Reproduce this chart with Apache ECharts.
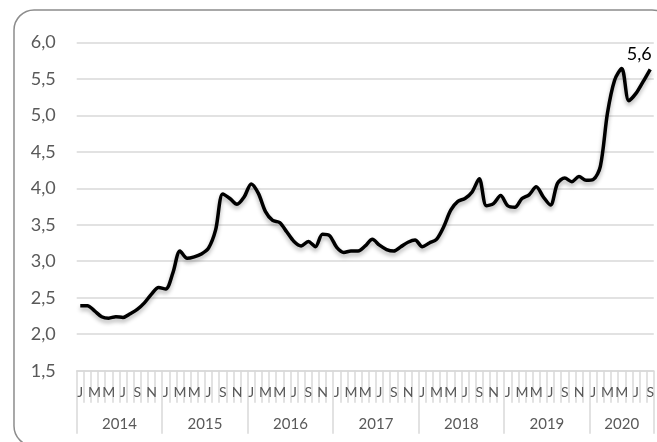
<!DOCTYPE html>
<html>
<head>
<meta charset="utf-8">
<script src="https://cdn.jsdelivr.net/npm/echarts@6/dist/echarts.min.js"></script>
<style>
  html, body { margin: 0; padding: 0; background: #fff; }
  #chart { width: 657px; height: 442px; }
</style>
</head>
<body>
<div id="chart"></div>
<script>
// monthly values, Jan 2014 .. Sep 2020
const years = ['2014', '2015', '2016', '2017', '2018', '2019', '2020']
const monthsPerYear = [12, 12, 12, 12, 12, 12, 9]
const monthLetters = ['J', 'F', 'M', 'A', 'M', 'J', 'J', 'A', 'S', 'O', 'N', 'D']

const values2014 = [2.39, 2.39, 2.32, 2.24, 2.22, 2.24, 2.23, 2.28, 2.34, 2.43, 2.55, 2.64]
const values2015 = [2.62, 2.84, 3.14, 3.04, 3.06, 3.10, 3.18, 3.43, 3.92, 3.86, 3.78, 3.88]
const values2016 = [4.06, 3.93, 3.68, 3.56, 3.53, 3.40, 3.27, 3.21, 3.27, 3.20, 3.37, 3.35]
const values2017 = [3.19, 3.12, 3.14, 3.14, 3.21, 3.30, 3.22, 3.16, 3.14, 3.20, 3.26, 3.29]
const values2018 = [3.20, 3.25, 3.30, 3.47, 3.70, 3.82, 3.86, 3.95, 4.13, 3.76, 3.79, 3.90]
const values2019 = [3.76, 3.74, 3.86, 3.91, 4.02, 3.88, 3.77, 4.07, 4.14, 4.09, 4.16, 4.11]
const values2020 = [4.12, 4.30, 5.03, 5.48, 5.64, 5.20, 5.30, 5.46, 5.63]

const yTicks = { min: 1.5, max: 6, interval: 0.5 }

const values = [].concat(values2014, values2015, values2016, values2017, values2018, values2019, values2020)
const categories = []
const yearBounds = [-0.5]
const yearMids = []
let idx = 0
years.forEach((y, k) => {
  for (let m = 0; m < monthsPerYear[k]; m++) categories.push(y + '-' + (m + 1))
  yearMids.push(idx + monthsPerYear[k] / 2 - 0.5)
  idx += monthsPerYear[k]
  yearBounds.push(idx - 0.5)
})

const grey = '#d9d9d9'
const textGrey = '#595959'
const font = 'Lato, "Noto Sans", sans-serif'

const chart = echarts.init(document.getElementById('chart'))
chart.setOption({
  backgroundColor: '#fff',
  animation: false,
  graphic: [{
    type: 'rect',
    shape: { x: 14, y: 10, width: 658, height: 436, r: 20 },
    style: { fill: 'none', stroke: '#8c8c8c', lineWidth: 1.5 },
    z: 10
  }],
  grid: { left: 76.7, right: 0.3, top: 42.3, bottom: 71.3 },
  xAxis: [
    {
      type: 'category',
      data: categories,
      boundaryGap: true,
      axisLine: { lineStyle: { color: grey, width: 1.5 } },
      axisTick: { show: true, interval: 0, length: 32, lineStyle: { color: grey, width: 1.5 } },
      axisLabel: {
        interval: 1,
        margin: 15,
        fontSize: 14,
        fontFamily: font,
        color: textGrey,
        formatter: (v, i) => monthLetters[i % 12]
      },
      splitLine: { show: false }
    },
    {
      type: 'value',
      position: 'bottom',
      min: -0.5,
      max: categories.length - 0.5,
      axisLine: { show: false },
      splitLine: { show: false },
      axisTick: { show: true, customValues: yearBounds, length: 63, lineStyle: { color: grey, width: 1.5 } },
      axisLabel: {
        customValues: yearMids,
        margin: 46,
        fontSize: 15,
        fontFamily: font,
        color: textGrey,
        formatter: (v) => years[yearMids.indexOf(v)] || ''
      }
    }
  ],
  yAxis: {
    type: 'value',
    min: yTicks.min,
    max: yTicks.max,
    interval: yTicks.interval,
    axisLine: { show: false },
    axisTick: { show: false },
    axisLabel: {
      margin: 21,
      fontSize: 18,
      fontFamily: font,
      color: textGrey,
      formatter: (v) => v.toFixed(1).replace('.', ',')
    },
    splitLine: { lineStyle: { color: grey, width: 1.5 } }
  },
  series: [{
    type: 'line',
    data: values,
    smooth: 0.3,
    showSymbol: false,
    clip: false,
    lineStyle: {
      color: '#000',
      width: 3.5,
      shadowColor: 'rgba(0,0,0,0.3)',
      shadowBlur: 4,
      shadowOffsetY: 3
    },
    markPoint: {
      symbol: 'circle',
      symbolSize: 1,
      itemStyle: { color: 'rgba(0,0,0,0)' },
      label: {
        show: true,
        position: 'top',
        distance: 6,
        offset: [-11, 0],
        fontSize: 18,
        fontFamily: font,
        color: '#000',
        formatter: (p) => p.value.toFixed(1).replace('.', ',')
      },
      data: [{ coord: [values.length - 1, values[values.length - 1]], value: values[values.length - 1] }]
    }
  }]
})
</script>
</body>
</html>
